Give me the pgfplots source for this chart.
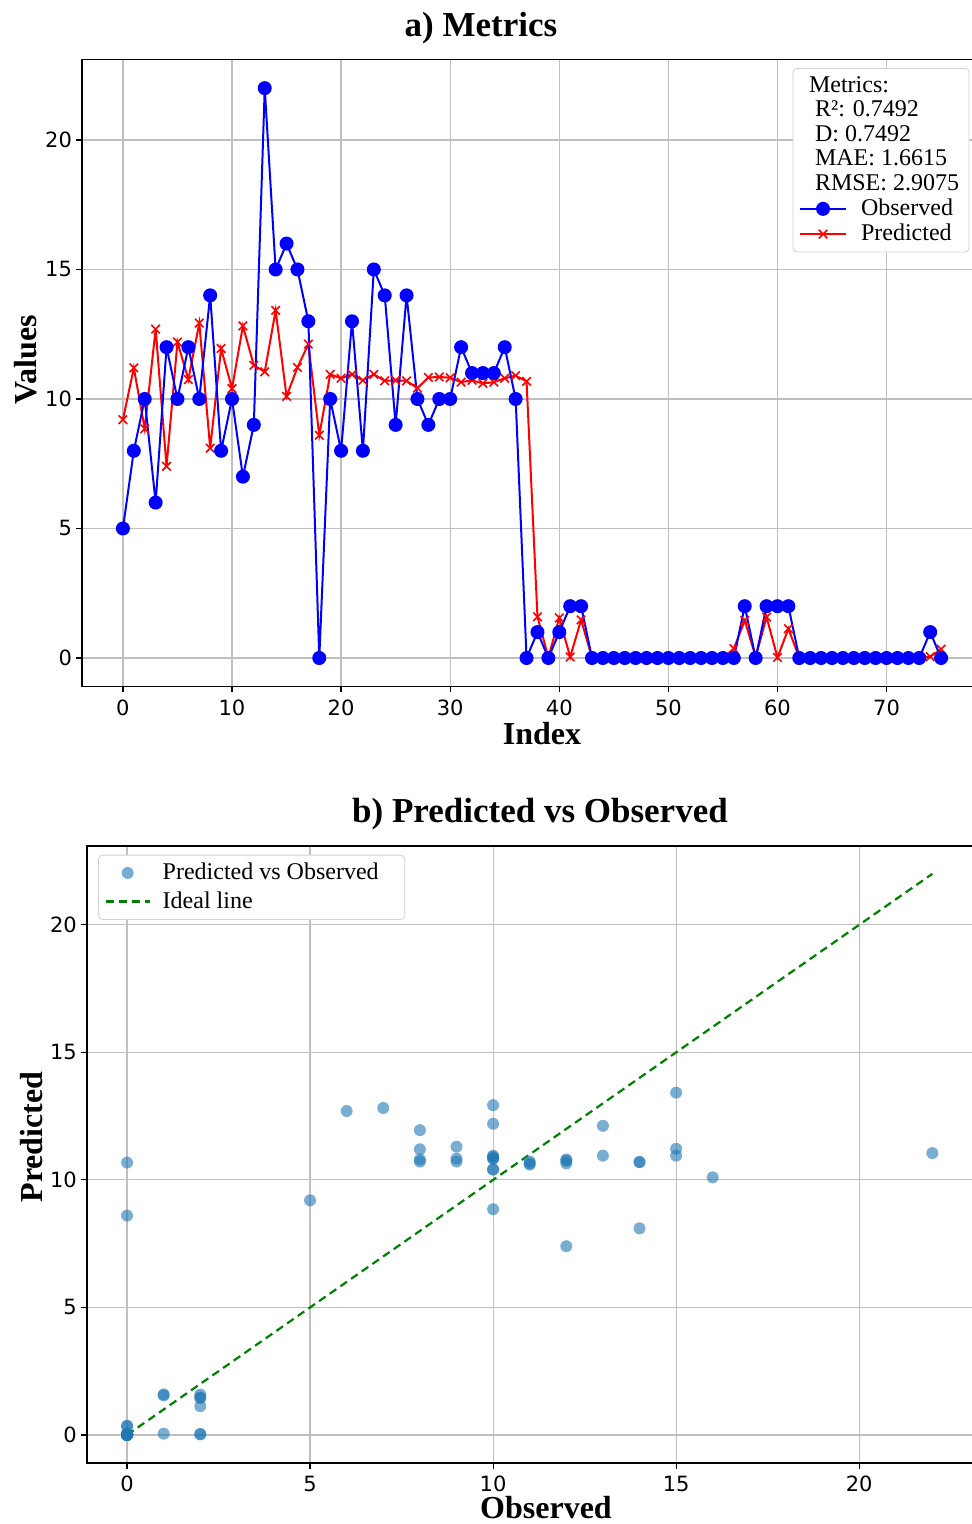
\documentclass[border=0pt]{standalone}
\usepackage{fontspec}
\setmainfont{Liberation Serif}
\newfontfamily\tickfont{DejaVu Sans}
\usepackage{pgfplots}
\usepackage{pgfplotstable}
\pgfplotsset{compat=1.18}

\definecolor{mplblue}{HTML}{1F77B4}
\definecolor{mplgreen}{HTML}{008000}

% index, observed, predicted
\pgfplotstableread{
idx obs pred
0 5 9.2
1 8 11.2
2 10 8.85
3 6 12.7
4 12 7.4
5 10 12.2
6 12 10.75
7 10 12.93
8 14 8.1
9 8 11.95
10 10 10.4
11 7 12.82
12 9 11.3
13 22 11.05
14 15 13.42
15 16 10.1
16 15 11.22
17 13 12.12
18 0 8.6
19 10 10.95
20 8 10.8
21 13 10.95
22 8 10.72
23 15 10.95
24 14 10.7
25 9 10.72
26 14 10.7
27 10 10.42
28 9 10.83
29 10 10.85
30 10 10.82
31 12 10.65
32 11 10.72
33 11 10.6
34 11 10.65
35 12 10.8
36 10 10.9
37 0 10.68
38 1 1.59
39 0 0.02
40 1 1.55
41 2 0.04
42 2 1.47
43 0 0.01
44 0 0.01
45 0 0.01
46 0 0.01
47 0 0.01
48 0 0.01
49 0 0.01
50 0 0.01
51 0 0.01
52 0 0.01
53 0 0.01
54 0 0.01
55 0 0.01
56 0 0.36
57 2 1.45
58 0 0.04
59 2 1.58
60 2 0.02
61 2 1.13
62 0 0.01
63 0 0.01
64 0 0.01
65 0 0.01
66 0 0.01
67 0 0.01
68 0 0.01
69 0 0.01
70 0 0.01
71 0 0.01
72 0 0.01
73 0 0.01
74 1 0.05
75 0 0.34
}\datatable

\pgfplotsset{
  common/.style={
    scale only axis,
    axis line style={line width=0.75pt},
    grid=major,
    grid style={gray!50, line width=0.6pt},
    tick align=outside,
    tick pos=left,
    major tick length=3pt,
    tick style={black, line width=0.6pt},
    ticklabel style={font=\tickfont\fontsize{10.5}{12}\selectfont},
    yticklabel style={xshift=1.5pt},
    /pgf/number format/assume math mode=true,
    legend cell align=left,
    legend style={font=\fontsize{12}{13}\selectfont, draw=gray!35,
      rounded corners=2pt, fill=white},
    legend image code/.code={
      \draw[mark repeat=2,mark phase=2,#1]
        plot coordinates {(0pt,0pt) (11.5pt,0pt) (23pt,0pt)};
      \path (28pt,0pt);},
  }
}

\begin{document}
\begin{tikzpicture}
\useasboundingbox (0,0) rectangle (485.5pt,762pt);

\begin{axis}[common,
  at={(41pt,418.75pt)}, anchor=south west,
  width=450pt, height=313.4pt,
  xmin=-3.75, xmax=78.75, ymin=-1.1, ymax=23.1,
  xtick={0,10,...,70}, ytick={0,5,...,20},
  legend style={at={(axis cs:77.6,22.78)}, anchor=north east, row sep=-1.2pt},
  ]
  \addlegendimage{empty legend}\addlegendentry{\hspace*{-26pt}Metrics:}
  \addlegendimage{empty legend}\addlegendentry{\hspace*{-23pt}R²: 0.7492}
  \addlegendimage{empty legend}\addlegendentry{\hspace*{-23pt}D: 0.7492}
  \addlegendimage{empty legend}\addlegendentry{\hspace*{-23pt}MAE: 1.6615}
  \addlegendimage{empty legend}\addlegendentry{\hspace*{-23pt}RMSE: 2.9075}
  \addlegendimage{blue, line width=1pt, mark=*, mark size=3pt}
  \addlegendentry{Observed}
  \addlegendimage{red, line width=1pt, mark=x, mark size=3pt, mark options={line width=0.8pt}}
  \addlegendentry{Predicted}
  \addplot[red, line width=1pt, mark=x, mark size=3pt, mark options={line width=0.8pt}, forget plot]
    table[x=idx, y=pred] {\datatable};
  \addplot[blue, line width=1pt, mark=*, mark size=3pt, forget plot]
    table[x=idx, y=obs] {\datatable};
\end{axis}

\begin{axis}[common,
  at={(43.4pt,30.5pt)}, anchor=south west,
  width=442.9pt, height=308.6pt,
  xmin=-1.1, xmax=23.1, ymin=-1.1, ymax=23.1,
  xtick={0,5,...,20}, ytick={0,5,...,20},
  legend style={at={(axis cs:-0.79,22.75)}, anchor=north west, row sep=0.5pt},
  legend image code/.code={
    \draw[mark repeat=2,mark phase=2,#1]
      plot coordinates {(0pt,0pt) (11pt,0pt) (22pt,0pt)};
    \path (26pt,0pt);},
  ]
  \addplot[only marks, mplblue, mark=*, mark size=3pt,
    mark options={draw opacity=0, fill=mplblue, fill opacity=0.6}]
    table[x=obs, y=pred] {\datatable};
  \addlegendentry{Predicted vs Observed\hspace*{8pt}}
  \addplot[mplgreen, line width=1.1pt, dash pattern=on 4pt off 2.5pt]
    coordinates {(0,0) (22,22)};
  \addlegendentry{Ideal line}
\end{axis}

\node[font=\bfseries\fontsize{17.5}{18}\selectfont] at (240.5pt,748pt) {a) Metrics};
\node[font=\bfseries\fontsize{17.5}{18}\selectfont] at (270pt,355pt) {b) Predicted vs Observed};
\node[font=\bfseries\fontsize{16}{16}\selectfont] at (271pt,395pt) {Index};
\node[font=\bfseries\fontsize{16}{16}\selectfont, rotate=90] at (13pt,582pt) {Values};
\node[font=\bfseries\fontsize{16}{16}\selectfont] at (273pt,8pt) {Observed};
\node[font=\bfseries\fontsize{16}{16}\selectfont, rotate=90] at (16pt,193.5pt) {Predicted};
\end{tikzpicture}
\end{document}
